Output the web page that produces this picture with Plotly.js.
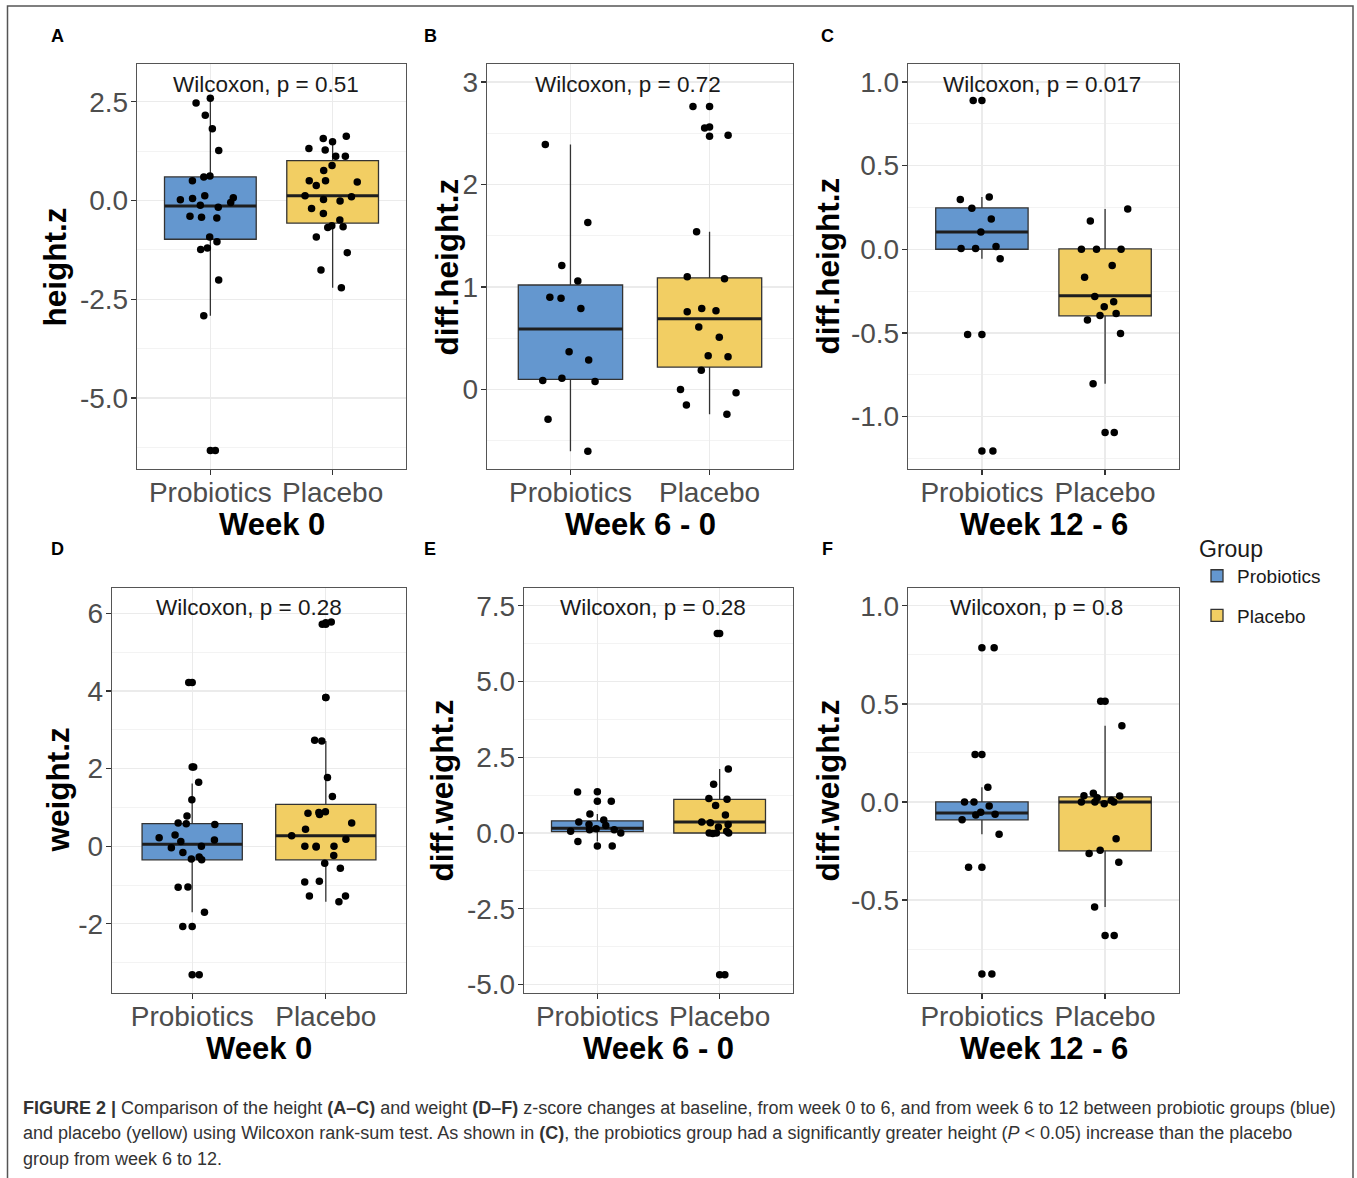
<!DOCTYPE html>
<html>
<head>
<meta charset="utf-8">
<script src="https://cdn.plot.ly/plotly-3.0.1.min.js"></script>
<style>
html, body { margin: 0; padding: 0; background: #ffffff; }
#chart { width: 1357px; height: 1178px; }
</style>
</head>
<body>
<div id="chart"></div>
<script>
// ---------------- DATA ----------------
const groups = ['Probiotics', 'Placebo'];

// box statistics order: [lower whisker, Q1, median, Q3, upper whisker]
// Panel A: height.z, Week 0
const A_pro_pts = [2.59, 2.47, 2.16, 1.82, 1.27, 0.62, 0.60, 0.50, 0.12, 0.07, 0.05, 0.02, -0.05, -0.12, -0.17, -0.40, -0.42, -0.44, -0.92, -1.04, -1.20, -1.24, -2.01, -2.92, -6.33];
const A_pro_out = [-6.33];
const A_pro_box = [-2.92, -0.98, -0.14, 0.60, 2.59];
const A_pla_pts = [1.63, 1.57, 1.49, 1.32, 1.28, 1.12, 1.12, 0.89, 0.76, 0.50, 0.50, 0.47, 0.38, 0.12, 0.10, 0.03, -0.01, -0.20, -0.33, -0.49, -0.64, -0.66, -0.68, -0.92, -1.32, -1.76, -2.21];
const A_pla_out = [];
const A_pla_box = [-2.21, -0.57, 0.12, 1.01, 1.56];

// Panel B: diff.height.z, Week 6 - 0
const B_pro_pts = [2.39, 1.63, 1.21, 1.06, 0.90, 0.89, 0.79, 0.37, 0.29, 0.11, 0.09, 0.08, -0.29, -0.60];
const B_pro_out = [];
const B_pro_box = [-0.60, 0.10, 0.59, 1.02, 2.39];
const B_pla_pts = [2.76, 2.55, 2.48, 1.54, 1.10, 1.08, 0.79, 0.77, 0.76, 0.61, 0.51, 0.33, 0.32, 0.19, 0.00, -0.03, -0.15, -0.24];
const B_pla_out = [2.76, 2.56, 2.47];
const B_pla_box = [-0.24, 0.22, 0.69, 1.09, 1.54];

// Panel C: diff.height.z, Week 12 - 6
const C_pro_pts = [0.889, 0.313, 0.297, 0.245, 0.181, 0.103, 0.016, 0.004, 0.004, -0.056, -0.509, -1.206];
const C_pro_out = [0.889, -0.509, -1.206];
const C_pro_box = [-0.056, 0.0, 0.103, 0.247, 0.313];
const C_pla_pts = [0.241, 0.169, 0.0, 0.0, 0.0, -0.097, -0.167, -0.282, -0.313, -0.344, -0.384, -0.396, -0.423, -0.503, -0.804, -1.095];
const C_pla_out = [-1.095];
const C_pla_box = [-0.804, -0.398, -0.278, 0.002, 0.241];

// Panel D: weight.z, Week 0
const D_pro_pts = [4.22, 2.04, 1.65, 1.20, 0.78, 0.60, 0.58, 0.56, 0.29, 0.22, 0.16, 0.12, 0.0, -0.04, -0.16, -0.28, -0.33, -0.35, -1.05, -1.06, -1.70, -2.07, -3.31];
const D_pro_out = [4.22, 2.04, -2.07, -3.31];
const D_pro_box = [-1.70, -0.35, 0.05, 0.585, 1.62];
const D_pla_pts = [5.78, 5.72, 3.83, 2.73, 2.71, 1.77, 1.28, 0.89, 0.87, 0.85, 0.82, 0.60, 0.44, 0.27, 0.18, 0.0, 0.0, 0.0, -0.02, -0.24, -0.44, -0.57, -0.90, -0.92, -1.28, -1.28, -1.43];
const D_pla_out = [5.76, 5.72, 3.83];
const D_pla_box = [-1.43, -0.35, 0.27, 1.08, 2.71];

// Panel E: diff.weight.z, Week 6 - 0
const E_pro_pts = [1.35, 1.05, 0.63, 0.43, 0.36, 0.28, 0.25, 0.14, 0.11, 0.11, 0.06, 0.0, -0.28, -0.43];
const E_pro_out = [1.36, 1.05, -0.43];
const E_pro_box = [-0.28, 0.045, 0.16, 0.40, 0.63];
const E_pla_pts = [6.59, 2.11, 1.61, 1.14, 1.11, 0.91, 0.59, 0.36, 0.34, 0.28, 0.20, 0.06, 0.0, 0.0, 0.0, -0.02, -4.68];
const E_pla_out = [6.59, -4.68];
const E_pla_box = [-0.02, 0.0, 0.36, 1.11, 2.11];

// Panel F: diff.weight.z, Week 12 - 6
const F_pro_pts = [0.786, 0.242, 0.075, 0.0, 0.0, -0.021, -0.053, -0.063, -0.067, -0.091, -0.165, -0.333, -0.877];
const F_pro_out = [0.786, 0.242, -0.333, -0.877];
const F_pro_box = [-0.165, -0.091, -0.056, 0.0, 0.075];
const F_pla_pts = [0.514, 0.389, 0.044, 0.032, 0.030, 0.021, 0.009, 0.0, 0.0, 0.0, -0.009, -0.188, -0.246, -0.263, -0.307, -0.535, -0.681];
const F_pla_out = [0.514, -0.681];
const F_pla_box = [-0.535, -0.249, 0.0, 0.026, 0.389];

// tick labels
const A_tickvals = [-5, -2.5, 0, 2.5];            const A_ticktext = ['-5.0', '-2.5', '0.0', '2.5'];
const B_tickvals = [0, 1, 2, 3];                  const B_ticktext = ['0', '1', '2', '3'];
const C_tickvals = [-1, -0.5, 0, 0.5, 1];         const C_ticktext = ['-1.0', '-0.5', '0.0', '0.5', '1.0'];
const D_tickvals = [-2, 0, 2, 4, 6];              const D_ticktext = ['-2', '0', '2', '4', '6'];
const E_tickvals = [-5, -2.5, 0, 2.5, 5, 7.5];    const E_ticktext = ['-5.0', '-2.5', '0.0', '2.5', '5.0', '7.5'];
const F_tickvals = [-0.5, 0, 0.5, 1];             const F_ticktext = ['-0.5', '0.0', '0.5', '1.0'];
const A_minor = [-6.25, -3.75, -1.25, 1.25];
const B_minor = [-0.5, 0.5, 1.5, 2.5];
const C_minor = [-1.25, -0.75, -0.25, 0.25, 0.75];
const D_minor = [-3, -1, 1, 3, 5];
const E_minor = [-3.75, -1.25, 1.25, 3.75, 6.25];
const F_minor = [-0.75, -0.25, 0.25, 0.75];

const yTitles = ['height.z', 'diff.height.z', 'diff.height.z', 'weight.z', 'diff.weight.z', 'diff.weight.z'];
const xTitles = ['Week 0', 'Week 6 - 0', 'Week 12 - 6', 'Week 0', 'Week 6 - 0', 'Week 12 - 6'];
const pTexts = ['Wilcoxon, p = 0.51', 'Wilcoxon, p = 0.72', 'Wilcoxon, p = 0.017',
                'Wilcoxon, p = 0.28', 'Wilcoxon, p = 0.28', 'Wilcoxon, p = 0.8'];
const letters = ['A', 'B', 'C', 'D', 'E', 'F'];

// ---------------- LAYOUT GEOMETRY ----------------
const W = 1357, H = 1178;
const FONT = 'Liberation Sans, Arial, Helvetica, sans-serif';
const COL_PRO = '#6497CF';
const COL_PLA = '#F2CE63';

const panels = [
  { pro: [A_pro_pts, A_pro_out, A_pro_box], pla: [A_pla_pts, A_pla_out, A_pla_box], range: [-6.80, 3.46], tv: A_tickvals, tt: A_ticktext, mv: A_minor,
    px: [137, 406], py: [64, 469], pX: 266, pY: 84, ytX: 54, xtY: 524, lX: 57, lY: 36 },
  { pro: [B_pro_pts, B_pro_out, B_pro_box], pla: [B_pla_pts, B_pla_out, B_pla_box], range: [-0.774, 3.175], tv: B_tickvals, tt: B_ticktext, mv: B_minor,
    px: [487, 793], py: [64, 469], pX: 628, pY: 84, ytX: 446, xtY: 524, lX: 430, lY: 36 },
  { pro: [C_pro_pts, C_pro_out, C_pro_box], pla: [C_pla_pts, C_pla_out, C_pla_box], range: [-1.313, 1.107], tv: C_tickvals, tt: C_ticktext, mv: C_minor,
    px: [908, 1179], py: [64, 469], pX: 1042, pY: 84, ytX: 827, xtY: 524, lX: 827, lY: 36 },
  { pro: [D_pro_pts, D_pro_out, D_pro_box], pla: [D_pla_pts, D_pla_out, D_pla_box], range: [-3.782, 6.655], tv: D_tickvals, tt: D_ticktext, mv: D_minor,
    px: [112, 406], py: [588, 993], pX: 249, pY: 607, ytX: 57, xtY: 1048, lX: 57, lY: 549 },
  { pro: [E_pro_pts, E_pro_out, E_pro_box], pla: [E_pla_pts, E_pla_out, E_pla_box], range: [-5.284, 8.09], tv: E_tickvals, tt: E_ticktext, mv: E_minor,
    px: [524, 793], py: [588, 993], pX: 653, pY: 607, ytX: 441, xtY: 1048, lX: 430, lY: 549 },
  { pro: [F_pro_pts, F_pro_out, F_pro_box], pla: [F_pla_pts, F_pla_out, F_pla_box], range: [-0.974, 1.091], tv: F_tickvals, tt: F_ticktext, mv: F_minor,
    px: [908, 1179], py: [588, 993], pX: 1036, pY: 607, ytX: 827, xtY: 1048, lX: 827, lY: 549 }
];

const fx = p => p / W;
const fy = p => 1 - p / H;

const traces = [];
const scatterTraces = [];
const layout = {
  width: W, height: H,
  margin: { l: 0, r: 0, t: 0, b: 0 },
  paper_bgcolor: '#ffffff', plot_bgcolor: '#ffffff',
  font: { family: FONT, color: '#1a1a1a' },
  showlegend: true,
  boxmode: 'overlay',
  legend: {
    x: fx(1197), xanchor: 'left', y: fy(527), yanchor: 'top',
    title: { text: 'Group', font: { family: FONT, size: 23, color: '#1a1a1a' } },
    font: { family: FONT, size: 19, color: '#1a1a1a' },
    bgcolor: 'rgba(0,0,0,0)', tracegroupgap: 12, itemwidth: 30
  },
  annotations: [],
  shapes: [{
    type: 'rect', xref: 'paper', yref: 'paper',
    x0: fx(7.5), x1: fx(1353), y0: -0.05, y1: fy(6),
    line: { color: '#555555', width: 1.5 }, fillcolor: 'rgba(0,0,0,0)', layer: 'above'
  }],
  hovermode: false
};

panels.forEach((p, i) => {
  const n = i + 1;
  const xa = 'x' + (n === 1 ? '' : n);
  const ya = 'y' + (n === 1 ? '' : n);
  const xKey = 'xaxis' + (n === 1 ? '' : n);
  const yKey = 'yaxis' + (n === 1 ? '' : n);

  layout[xKey] = {
    domain: [fx(p.px[0]), fx(p.px[1])], anchor: ya,
    type: 'category', categoryorder: 'array', categoryarray: groups,
    range: [-0.6, 1.6], fixedrange: true, automargin: false,
    showgrid: true, gridcolor: '#EBEBEB', gridwidth: 1.2,
    showline: true, mirror: true, linecolor: '#555555', linewidth: 1.2,
    ticks: 'outside', ticklen: 5, tickwidth: 1.2, tickcolor: '#333333',
    ticklabelstandoff: -7,
    tickfont: { family: FONT, size: 28, color: '#4D4D4D' },
    zeroline: false
  };
  layout[yKey] = {
    domain: [fy(p.py[1]), fy(p.py[0])], anchor: xa,
    range: p.range, fixedrange: true, automargin: false,
    tickmode: 'array', tickvals: p.tv, ticktext: p.tt,
    showgrid: true, gridcolor: '#EBEBEB', gridwidth: 1.2,
    minor: { tickmode: 'array', tickvals: p.mv, showgrid: true, gridcolor: '#F0F0F0', gridwidth: 0.8, ticks: '' },
    showline: true, mirror: true, linecolor: '#555555', linewidth: 1.2,
    ticks: 'outside', ticklen: 5, tickwidth: 1.2, tickcolor: '#333333',
    ticklabelstandoff: -3,
    tickfont: { family: FONT, size: 28, color: '#4D4D4D' },
    zeroline: false
  };

  const sets = [[groups[0], p.pro, COL_PRO], [groups[1], p.pla, COL_PLA]];
  // boxes
  sets.forEach(([g, d, col]) => {
    const b = d[2];
    traces.push({
      type: 'box', xaxis: xa, yaxis: ya, x: [g],
      lowerfence: [b[0]], q1: [b[1]], median: [b[2]], q3: [b[3]], upperfence: [b[4]],
      width: 0.75, whiskerwidth: 0, fillcolor: col, line: { color: '#333333', width: 1.3 },
      boxpoints: false, name: g, legendgroup: g, showlegend: i === 0, hoverinfo: 'skip'
    });
  });
  // thick median lines
  sets.forEach(([g, d]) => {
    const m = d[2][2];
    traces.push({
      type: 'box', xaxis: xa, yaxis: ya, x: [g],
      lowerfence: [m], q1: [m], median: [m], q3: [m], upperfence: [m],
      width: 0.75, whiskerwidth: 0, fillcolor: 'rgba(0,0,0,0)', line: { color: '#1e1e1e', width: 3 },
      boxpoints: false, name: g, legendgroup: g, showlegend: false, hoverinfo: 'skip'
    });
  });
  // jittered points
  sets.forEach(([g, d]) => {
    traces.push({
      type: 'box', xaxis: xa, yaxis: ya, x: d[0].map(() => g), y: d[0],
      width: 0.75, whiskerwidth: 0, boxpoints: 'all', jitter: 0.7, pointpos: 0,
      fillcolor: 'rgba(0,0,0,0)', line: { color: 'rgba(0,0,0,0)', width: 0 },
      marker: { color: '#000000', size: 7.5, line: { width: 0 } },
      name: g, legendgroup: g, showlegend: false, hoverinfo: 'skip'
    });
  });
  // boxplot outliers at the group centre
  sets.forEach(([g, d]) => {
    if (d[1].length) {
      scatterTraces.push({
        type: 'scatter', mode: 'markers', xaxis: xa, yaxis: ya,
        x: d[1].map(() => g), y: d[1],
        marker: { color: '#000000', size: 7.5, line: { width: 0 } },
        name: g, legendgroup: g, showlegend: false, hoverinfo: 'skip'
      });
    }
  });

  const midX = (p.px[0] + p.px[1]) / 2;
  const midY = (p.py[0] + p.py[1]) / 2;
  layout.annotations.push(
    { xref: 'paper', yref: 'paper', x: fx(p.pX), y: fy(p.pY), xanchor: 'center', yanchor: 'middle',
      text: pTexts[i], showarrow: false, font: { family: FONT, size: 22.5, color: '#1a1a1a' } },
    { xref: 'paper', yref: 'paper', x: fx(p.ytX), y: fy(midY), xanchor: 'center', yanchor: 'middle',
      text: '<b>' + yTitles[i] + '</b>', textangle: -90, showarrow: false, font: { family: FONT, size: 31.5, color: '#000000' } },
    { xref: 'paper', yref: 'paper', x: fx(midX), y: fy(p.xtY), xanchor: 'center', yanchor: 'middle',
      text: '<b>' + xTitles[i] + '</b>', showarrow: false, font: { family: FONT, size: 31, color: '#000000' } },
    { xref: 'paper', yref: 'paper', x: fx(p.lX), y: fy(p.lY), xanchor: 'center', yanchor: 'middle',
      text: '<b>' + letters[i] + '</b>', showarrow: false, font: { family: FONT, size: 18, color: '#000000' } }
  );
});

// caption
const captionLines = [
  '<b>FIGURE 2 |</b> Comparison of the height <b>(A–C)</b> and weight <b>(D–F)</b> z-score changes at baseline, from week 0 to 6, and from week 6 to 12 between probiotic groups (blue)',
  'and placebo (yellow) using Wilcoxon rank-sum test. As shown in <b>(C)</b>, the probiotics group had a significantly greater height (<i>P</i> &lt; 0.05) increase than the placebo',
  'group from week 6 to 12.'
];
const captionY = [1108, 1133, 1159];
captionLines.forEach((t, k) => {
  layout.annotations.push({
    xref: 'paper', yref: 'paper', x: fx(21), y: fy(captionY[k]), xanchor: 'left', yanchor: 'middle',
    text: t, showarrow: false, align: 'left', font: { family: FONT, size: 18, color: '#333333' }
  });
});

Plotly.newPlot('chart', traces.concat(scatterTraces), layout, { staticPlot: true, displayModeBar: false });
</script>
</body>
</html>
